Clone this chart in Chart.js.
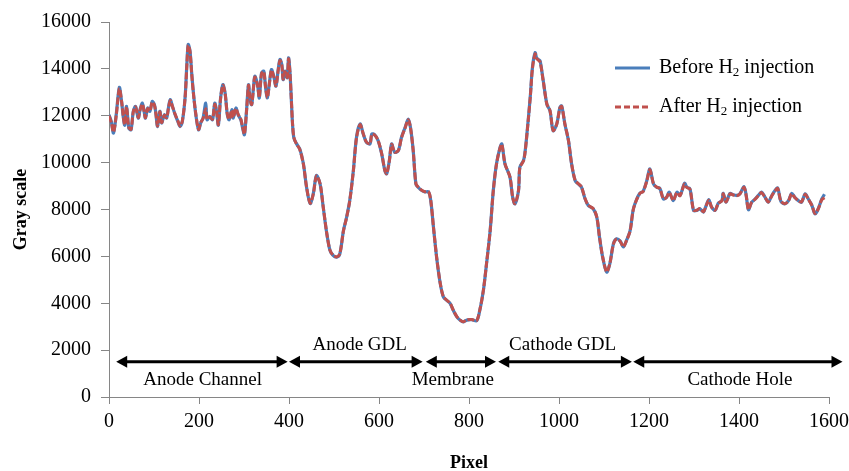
<!DOCTYPE html>
<html>
<head>
<meta charset="utf-8">
<script src="https://cdn.jsdelivr.net/npm/chart.js@4/dist/chart.umd.min.js"></script>
<style>
  html, body { margin: 0; padding: 0; background: #fff; }
  #wrap { width: 849px; height: 471px; }
</style>
</head>
<body>
<div id="wrap"><canvas id="grayChart"></canvas></div>
<script>
// Pixel positions along the profile
var pixels = [
  0, 5, 10, 16, 23, 28, 32, 35, 39, 44, 49, 54, 59, 65, 69, 74, 78, 81, 86, 91,
  96, 101, 104, 108, 113, 117, 123, 128, 132, 136, 141, 147, 153, 158, 163, 169, 173, 176, 180, 184,
  188, 193, 199, 204, 209, 215, 218, 224, 230, 235, 239, 243, 248, 253, 258, 263, 267, 273, 276, 282,
  287, 293, 297, 301, 306, 310, 313, 317, 321, 324, 330, 334, 339, 344, 348, 352, 356, 361, 366, 371,
  376, 380, 384, 387, 391, 396, 399, 402, 405, 408, 411, 417, 424, 432, 439, 447, 454, 461, 469, 476,
  484, 491, 498, 506, 513, 521, 528, 535, 543, 550, 558, 565, 572, 580, 584, 590, 598, 606, 613, 617,
  623, 628, 635, 643, 650, 658, 665, 670, 676, 682, 687, 695, 702, 710, 715, 721, 728, 736, 743, 750,
  758, 765, 773, 780, 787, 795, 806, 817, 824, 832, 839, 847, 854, 861, 869, 873, 880, 891, 897, 902,
  910, 913, 921, 924, 928, 936, 941, 947, 950, 954, 958, 965, 973, 980, 987, 995, 1002, 1006, 1013, 1021,
  1028, 1036, 1043, 1050, 1058, 1065, 1076, 1084, 1090, 1097, 1106, 1113, 1121, 1128, 1136, 1143, 1150, 1158, 1165, 1173,
  1180, 1187, 1195, 1202, 1210, 1217, 1224, 1232, 1239, 1245, 1254, 1262, 1269, 1279, 1284, 1291, 1299, 1306, 1313, 1321,
  1327, 1333, 1339, 1347, 1354, 1362, 1365, 1371, 1380, 1387, 1395, 1402, 1411, 1416, 1421, 1428, 1436, 1443, 1450, 1458,
  1465, 1473, 1480, 1486, 1493, 1502, 1510, 1517, 1524, 1532, 1539, 1547, 1554, 1562, 1569, 1576, 1584, 1590
];

// Gray scale before H2 injection
var beforeH2 = [
  12040, 11760, 11260, 12040, 13210, 12600, 11900, 11600, 12400, 11470, 11400, 12190, 12400, 11900, 12260, 12540, 12190, 11900, 12330, 12190,
  12610, 12470, 12110, 11540, 12190, 11690, 12040, 11900, 12330, 12690, 12400, 12040, 11760, 11540, 11760, 12760, 14190, 15040, 14760, 13760,
  12900, 12040, 11400, 11700, 11900, 12540, 11830, 11970, 11830, 12540, 12190, 11600, 12760, 13330, 12970, 12040, 11830, 12260, 11900, 12330,
  12040, 11830, 11470, 11190, 12330, 13330, 12760, 12470, 13190, 13690, 13330, 12760, 13830, 13900, 13190, 12760, 13330, 13970, 13690, 13260,
  13970, 14400, 14190, 13540, 13900, 13620, 14470, 13900, 12760, 11600, 11040, 10800, 10580, 9950, 8950, 8250, 8680, 9450, 9100, 8100,
  6970, 6260, 6040, 5970, 6110, 7100, 7670, 8380, 9660, 11080, 11650, 11220, 10870, 10800, 11220, 11200, 10940, 10370, 9660, 9520,
  10090, 10800, 10440, 10510, 11080, 11500, 11860, 11500, 10510, 9090, 8950, 8810, 8750, 8750, 8380, 7250, 5970, 4850, 4270, 4130,
  3990, 3700, 3420, 3280, 3200, 3280, 3300, 3250, 3700, 4550, 5690, 7100, 8810, 9940, 10650, 10800, 9940, 9380, 8520, 8240,
  8810, 9800, 10090, 10370, 11080, 12780, 14060, 14690, 14480, 14400, 14340, 13490, 12500, 12210, 11360, 11650, 12350, 12420, 11650, 10940,
  9940, 9230, 9090, 8950, 8450, 8170, 8030, 7670, 6820, 5970, 5330, 5690, 6540, 6750, 6650, 6400, 6680, 7100, 8000, 8450,
  8700, 8780, 9230, 9730, 9090, 8950, 8900, 8450, 8520, 8740, 8380, 8740, 8600, 9120, 8950, 8880, 7960, 7960, 8030, 7890,
  8170, 8420, 8100, 7960, 8270, 8380, 8690, 8310, 8690, 8630, 8600, 8670, 8980, 8600, 7990, 8310, 8450, 8600, 8740, 8520,
  8310, 8600, 8810, 8920, 8350, 8240, 8380, 8690, 8520, 8380, 8310, 8670, 8450, 8170, 7810, 8030, 8450, 8650
];

// Gray scale after H2 injection
var afterH2 = [
  12000, 11720, 11300, 12000, 13150, 12620, 11920, 11620, 12380, 11500, 11420, 12170, 12380, 11920, 12240, 12500, 12200, 11920, 12300, 12200,
  12580, 12450, 12130, 11560, 12170, 11710, 12020, 11920, 12300, 12650, 12400, 12060, 11780, 11560, 11780, 12740, 14150, 15000, 14740, 13740,
  12880, 12060, 11420, 11720, 11880, 12300, 11850, 11950, 11850, 12480, 12200, 11620, 12740, 13300, 12950, 12060, 11850, 12240, 11920, 12300,
  12060, 11850, 11500, 11220, 12300, 13300, 12780, 12480, 13170, 13650, 13320, 12780, 13800, 13880, 13200, 12780, 13300, 13940, 13680, 13280,
  13940, 14360, 14170, 13560, 13880, 13640, 14430, 13880, 12780, 11620, 11060, 10780, 10560, 9930, 8960, 8270, 8660, 9430, 9110, 8120,
  6980, 6270, 6050, 5980, 6120, 7090, 7660, 8370, 9640, 11060, 11620, 11230, 10880, 10810, 11200, 11180, 10950, 10380, 9670, 9530,
  10070, 10780, 10450, 10520, 11060, 11480, 11830, 11490, 10520, 9100, 8960, 8820, 8760, 8760, 8390, 7260, 5980, 4860, 4280, 4140,
  4000, 3710, 3430, 3290, 3210, 3290, 3310, 3260, 3710, 4560, 5700, 7090, 8800, 9920, 10630, 10780, 9950, 9390, 8530, 8250,
  8800, 9780, 10070, 10350, 11060, 12750, 14020, 14640, 14450, 14370, 14300, 13480, 12500, 12220, 11370, 11640, 12330, 12400, 11660, 10950,
  9950, 9240, 9100, 8960, 8460, 8180, 8040, 7680, 6830, 5980, 5340, 5700, 6530, 6740, 6640, 6410, 6670, 7090, 7990, 8440,
  8690, 8770, 9210, 9700, 9100, 8960, 8890, 8460, 8510, 8720, 8390, 8720, 8590, 9090, 8940, 8870, 7970, 7970, 8040, 7900,
  8160, 8400, 8110, 7970, 8260, 8370, 8670, 8320, 8670, 8620, 8590, 8660, 8950, 8590, 8000, 8300, 8440, 8590, 8720, 8510,
  8320, 8590, 8790, 8900, 8360, 8250, 8370, 8670, 8510, 8370, 8320, 8650, 8440, 8180, 7830, 8020, 8420, 8500
];

// Axis ranges
var xTickStep = 200, xMax = 1600;
var yTickStep = 2000, yMax = 16000;

// Region arrows under the profile (pixel ranges) and their labels
var regionArrowY = 1500;
var regionStart = [16, 400, 704, 865, 1165];
var regionEnd = [397, 697, 860, 1162, 1630];
var regionNames = ['Anode Channel', 'Anode GDL', 'Membrane', 'Cathode GDL', 'Cathode Hole'];
var regionLabelX = [208, 557, 764, 1008, 1402];
var regionLabelY = [730, 2230, 730, 2230, 730];

var serif = "'Liberation Serif', 'Times New Roman', serif";

function toPoints(xs, ys) {
    var pts = [];
    for (var i = 0; i < xs.length; i++) pts.push({ x: xs[i], y: ys[i] });
    return pts;
}

// Draws the double-headed region arrows, their labels and the legend box
var regionPlugin = {
    id: 'regions',
    afterDatasetsDraw: function(chart) {
        var ctx = chart.ctx;
        var xs = chart.scales.x, ys = chart.scales.y;
        var yPix = ys.getPixelForValue(regionArrowY);
        ctx.save();
        ctx.strokeStyle = '#000';
        ctx.fillStyle = '#000';
        ctx.lineWidth = 3;
        for (var i = 0; i < regionStart.length; i++) {
            var a = xs.getPixelForValue(regionStart[i]);
            var b = xs.getPixelForValue(regionEnd[i]);
            ctx.beginPath();
            ctx.moveTo(a + 8, yPix);
            ctx.lineTo(b - 8, yPix);
            ctx.stroke();
            ctx.beginPath();
            ctx.moveTo(a, yPix);
            ctx.lineTo(a + 11, yPix - 6);
            ctx.lineTo(a + 11, yPix + 6);
            ctx.closePath();
            ctx.fill();
            ctx.beginPath();
            ctx.moveTo(b, yPix);
            ctx.lineTo(b - 11, yPix - 6);
            ctx.lineTo(b - 11, yPix + 6);
            ctx.closePath();
            ctx.fill();
        }
        ctx.font = '19px ' + serif;
        ctx.textAlign = 'center';
        ctx.textBaseline = 'middle';
        for (var j = 0; j < regionNames.length; j++) {
            ctx.fillText(regionNames[j], xs.getPixelForValue(regionLabelX[j]), ys.getPixelForValue(regionLabelY[j]));
        }

        // legend
        var items = [
            { pre: 'Before H', post: ' injection', color: '#4a7ebb', dash: [], y: 68 },
            { pre: 'After H', post: ' injection', color: '#c0504d', dash: [6, 3], y: 107 }
        ];
        ctx.textAlign = 'left';
        items.forEach(function(it) {
            ctx.strokeStyle = it.color;
            ctx.lineWidth = 3;
            ctx.setLineDash(it.dash);
            ctx.beginPath();
            ctx.moveTo(615, it.y);
            ctx.lineTo(650, it.y);
            ctx.stroke();
            ctx.setLineDash([]);
            ctx.fillStyle = '#000';
            ctx.font = '20px ' + serif;
            var x = 659;
            ctx.fillText(it.pre, x, it.y);
            x += ctx.measureText(it.pre).width;
            ctx.font = '13px ' + serif;
            ctx.fillText('2', x, it.y + 5);
            x += ctx.measureText('2').width;
            ctx.font = '20px ' + serif;
            ctx.fillText(it.post, x, it.y);
        });
        ctx.restore();
    }
};

function plainTick(value) {
    return String(value);
}

window.onload = function() {
    var ctx = document.getElementById('grayChart').getContext('2d');
    new Chart(ctx, {
        type: 'line',
        data: {
            datasets: [{
                label: 'Before H\u2082 injection',
                data: toPoints(pixels, beforeH2),
                borderColor: '#4a7ebb',
                borderWidth: 3.2,
                pointRadius: 0,
                tension: 0.3,
                order: 2
            }, {
                label: 'After H\u2082 injection',
                data: toPoints(pixels, afterH2),
                borderColor: '#c0504d',
                borderWidth: 3,
                borderDash: [7, 2],
                pointRadius: 0,
                tension: 0.3,
                order: 1
            }]
        },
        options: {
            responsive: true,
            maintainAspectRatio: false,
            animation: false,
            layout: { padding: { top: 21, right: 20, left: 0, bottom: 0 } },
            plugins: {
                legend: { display: false },
                tooltip: { enabled: false }
            },
            scales: {
                x: {
                    type: 'linear',
                    min: 0,
                    max: xMax,
                    afterFit: function(scale) {
                        scale.height = 74;
                        scale.paddingLeft = 0;
                        scale.paddingRight = 0;
                    },
                    ticks: {
                        stepSize: xTickStep,
                        color: '#000',
                        padding: 6,
                        maxRotation: 0,
                        callback: plainTick,
                        font: { family: serif, size: 20 }
                    },
                    grid: { drawOnChartArea: false, drawTicks: true, tickLength: 7, color: '#868686' },
                    border: { color: '#868686', width: 1 },
                    title: {
                        display: true,
                        text: 'Pixel',
                        color: '#000',
                        padding: { top: 0, bottom: -3 },
                        font: { family: serif, size: 18, weight: 'bold' }
                    }
                },
                y: {
                    min: 0,
                    max: yMax,
                    afterFit: function(scale) { scale.width = 109; },
                    ticks: {
                        stepSize: yTickStep,
                        color: '#000',
                        padding: 10,
                        callback: plainTick,
                        font: { family: serif, size: 20 }
                    },
                    grid: { drawOnChartArea: false, drawTicks: true, tickLength: 8, color: '#868686' },
                    border: { color: '#868686', width: 1 },
                    title: {
                        display: true,
                        text: 'Gray scale',
                        color: '#000',
                        padding: { top: 11, bottom: 0 },
                        font: { family: serif, size: 18, weight: 'bold' }
                    }
                }
            }
        },
        plugins: [regionPlugin]
    });
};
</script>
</body>
</html>
